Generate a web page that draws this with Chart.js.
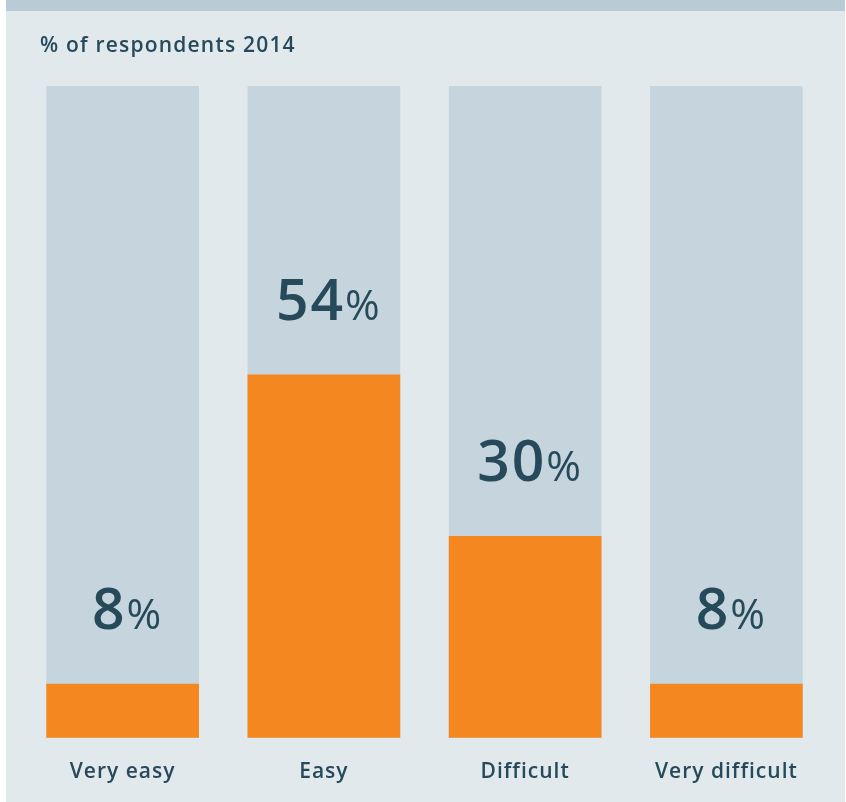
<!DOCTYPE html>
<html>
<head>
<meta charset="utf-8">
<script src="https://cdn.jsdelivr.net/npm/chart.js@4/dist/chart.umd.min.js"></script>
<style>
  html, body { margin: 0; padding: 0; background: #ffffff; }
  #panel {
    position: absolute; left: 6px; top: 0; width: 839px; height: 791px;
    background: #e1e9ed; border-top: 11px solid #b9cbd5;
  }
  #wrap { position: absolute; left: 0; top: 0; width: 846px; height: 802px; }
</style>
</head>
<body>
<div id="panel"></div>
<div id="wrap"><canvas id="chart-1"></canvas></div>
<script>
// Data
const categories = ["Very easy", "Easy", "Difficult", "Very difficult"];
const shares = [8, 54, 30, 8];
const scaleMax = 97;
const track = categories.map(() => scaleMax);

const ink = "#264a5a";

// Wider tracking for the axis labels
const spacingPlugin = {
  id: "spacing",
  beforeDraw(chart) {
    chart.ctx.letterSpacing = "1px";
  }
};

// Title and value labels (big number, smaller % sign)
const labelsPlugin = {
  id: "valueLabels",
  afterDatasetsDraw(chart) {
    const ctx = chart.ctx;
    ctx.save();
    ctx.fillStyle = ink;
    ctx.textBaseline = "alphabetic";
    ctx.textAlign = "left";
    ctx.letterSpacing = "1.2px";
    ctx.font = "600 21px 'Open Sans'";
    ctx.fillText("% of respondents 2014", 40, 52);

    const meta = chart.getDatasetMeta(1);
    meta.data.forEach((bar, i) => {
      const num = String(shares[i]);
      ctx.letterSpacing = "2px";
      ctx.font = "600 57px 'Open Sans'";
      const w1 = ctx.measureText(num).width;
      ctx.letterSpacing = "0px";
      ctx.font = "400 42px 'Open Sans'";
      const w2 = ctx.measureText("%").width;
      const x0 = bar.x + 4 - (w1 + w2) / 2;
      const base = bar.y - 55;
      ctx.letterSpacing = "2px";
      ctx.font = "600 57px 'Open Sans'";
      ctx.fillText(num, x0, base);
      ctx.letterSpacing = "0px";
      ctx.font = "400 42px 'Open Sans'";
      ctx.fillText("%", x0 + w1, base);
    });
    ctx.restore();
  }
};

const ctx1 = document.getElementById("chart-1").getContext("2d");
const myChart = new Chart(ctx1, {
  type: "bar",
  data: {
    labels: categories,
    datasets: [
      {
        label: "Track",
        data: track,
        backgroundColor: "#c6d4dd",
        barThickness: 152,
        grouped: false,
        order: 2,
      },
      {
        label: "% of respondents",
        data: shares,
        backgroundColor: "#f58720",
        barThickness: 152,
        grouped: false,
        order: 1,
      },
    ],
  },
  options: {
    responsive: true,
    maintainAspectRatio: false,
    animation: false,
    layout: { padding: { left: 22, right: 19, top: 86, bottom: 3 } },
    plugins: {
      legend: { display: false },
      tooltip: { enabled: false },
    },
    scales: {
      x: {
        grid: { display: false },
        border: { display: false },
        ticks: {
          color: ink,
          padding: 14,
          font: { family: "'Open Sans'", size: 21, weight: "600" },
        },
      },
      y: {
        display: false,
        min: 0,
        max: scaleMax,
      },
    },
  },
  plugins: [spacingPlugin, labelsPlugin],
});
</script>
</body>
</html>
